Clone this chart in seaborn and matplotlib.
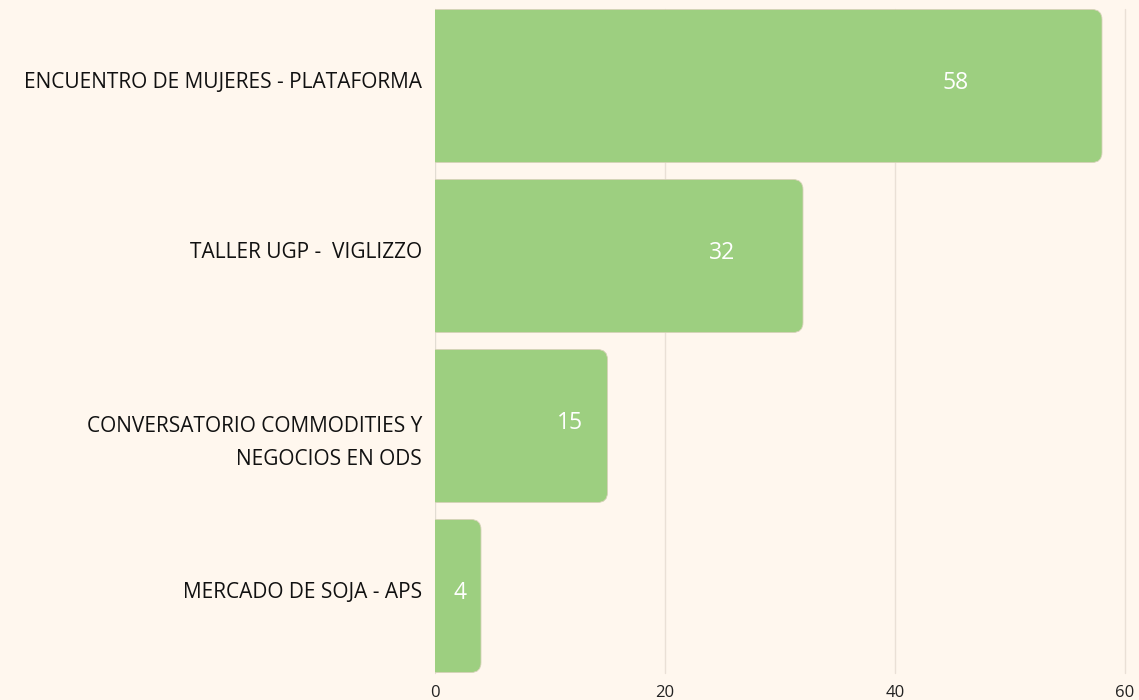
import matplotlib
matplotlib.use('Agg')
import matplotlib.pyplot as plt
import matplotlib.transforms as mtransforms
from matplotlib.patches import FancyBboxPatch
import seaborn as sns
import pandas as pd

categorias = ['ENCUENTRO DE MUJERES - PLATAFORMA',
              'TALLER UGP -  VIGLIZZO',
              'CONVERSATORIO COMMODITIES Y\nNEGOCIOS EN ODS',
              'MERCADO DE SOJA - APS']
valores = [58, 32, 15, 4]
ticks_x = [0, 20, 40, 60]

fondo = '#FFF7EE'
verde = '#9DCF80'
grilla = '#EAE0D6'

sns.set_theme(style='white')
plt.rcParams['font.family'] = ['Open Sans', 'DejaVu Sans']

df = pd.DataFrame({'evento': categorias, 'cantidad': valores})

fig = plt.figure(figsize=(11.39, 7), dpi=100)
fig.patch.set_facecolor(fondo)
ax = fig.add_axes([435 / 1139, 19 / 700, 690 / 1139, 680 / 700])
ax.set_facecolor(fondo)

sns.barplot(data=df, x='cantidad', y='evento', color=verde, width=0.9, ax=ax)

# reemplazar barras por rectangulos con esquinas redondeadas
px_x = 690 / 60
px_y = 680 / 4
radio = 10 / px_x
for p in list(ax.patches):
    y0 = p.get_y()
    h = p.get_height()
    w = p.get_width()
    p.remove()
    caja = FancyBboxPatch((-3, y0), w + 3, h,
                          boxstyle=f'round,pad=0,rounding_size={radio}',
                          mutation_aspect=px_x / px_y,
                          facecolor=verde, edgecolor='#D6D2B8', linewidth=0.6,
                          zorder=3)
    ax.add_patch(caja)

for i, v in enumerate(valores):
    pos = v * 0.78 if v > 5 else v * 0.55
    ax.text(pos, i - 0.015, str(v), color='white', fontsize=16.5,
            ha='center', va='center', zorder=4)

ax.set_xlim(0, 60)
ax.set_ylim(3.5, -0.5)
ax.set_xticks(ticks_x)
ax.set_xticklabels([str(t) for t in ticks_x], fontsize=12, color='#222222')
ax.tick_params(axis='x', length=0, pad=3)
ax.set_yticks(range(len(categorias)))
ax.set_yticklabels([])
ax.tick_params(axis='y', length=0)

# etiquetas de categorias a mano (desplazamiento vertical como en la imagen)
desp = [-0.018, -0.018, 0.1, -0.018]
trans = mtransforms.blended_transform_factory(ax.transAxes, ax.transData)
trans = trans + mtransforms.ScaledTranslation(-13 / 100, 0, fig.dpi_scale_trans)
for i, cat in enumerate(categorias):
    ax.text(0, i + desp[i], cat, transform=trans, ha='right', va='center',
            fontsize=15, color='#111111', linespacing=1.7)

ax.set_xlabel('')
ax.set_ylabel('')
for t in ticks_x[1:]:
    ax.axvline(t, ymin=0.012, ymax=0.988, color=grilla, linewidth=1, zorder=1, clip_on=False)
ax.axvline(0, ymin=0.012, ymax=0.988, color='#E2DCD2', linewidth=1, zorder=1)
sns.despine(ax=ax, left=True, bottom=True)

fig.savefig('out.png', dpi=100, facecolor=fondo)
